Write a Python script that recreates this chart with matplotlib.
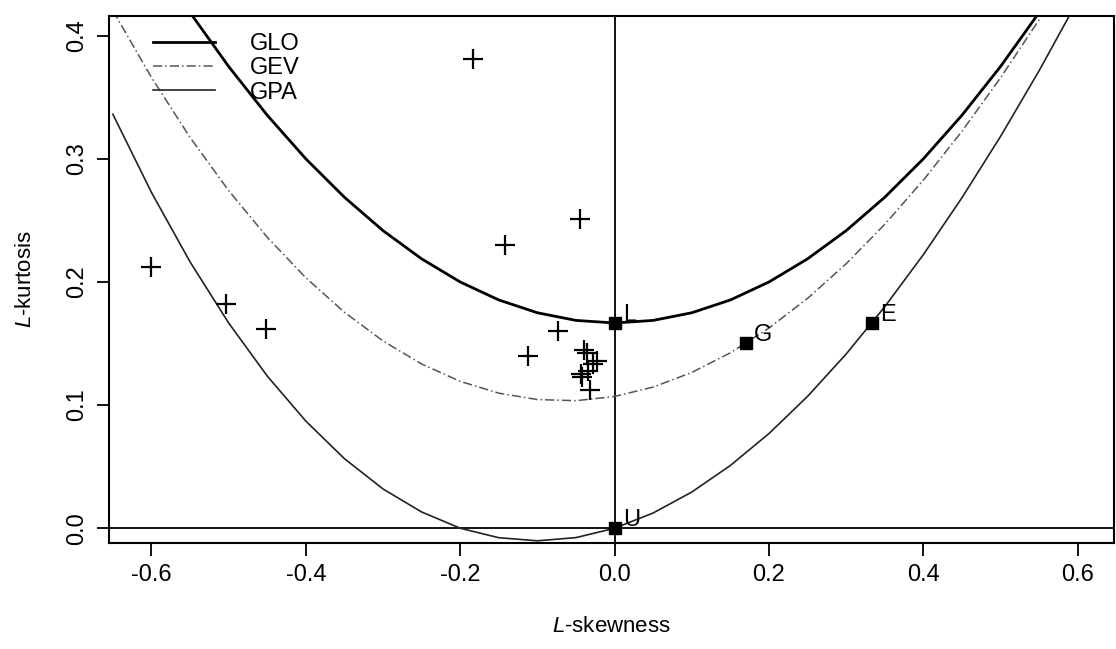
import matplotlib
matplotlib.use("Agg")
import matplotlib.pyplot as plt

plt.rcParams['font.family'] = ['Liberation Sans', 'DejaVu Sans']
plt.rcParams['mathtext.fontset'] = 'custom'
plt.rcParams['mathtext.rm'] = 'Liberation Sans'
plt.rcParams['mathtext.it'] = 'Liberation Sans:italic'

# L-skewness grid for the theoretical curves
tau3 = [-0.65, -0.60, -0.55, -0.50, -0.45, -0.40, -0.35, -0.30, -0.25, -0.20,
        -0.15, -0.10, -0.05, 0.00, 0.05, 0.10, 0.15, 0.20, 0.25, 0.30,
        0.35, 0.40, 0.45, 0.50, 0.55, 0.60, 0.65]
glo = [0.5188, 0.4667, 0.4188, 0.3750, 0.3354, 0.3000, 0.2688, 0.2417, 0.2188, 0.2000,
       0.1854, 0.1750, 0.1688, 0.1667, 0.1688, 0.1750, 0.1854, 0.2000, 0.2188, 0.2417,
       0.2688, 0.3000, 0.3354, 0.3750, 0.4188, 0.4667, 0.5188]
gev = [0.4204, 0.3661, 0.3174, 0.2742, 0.2363, 0.2034, 0.1754, 0.1521, 0.1334, 0.1193,
       0.1097, 0.1045, 0.1036, 0.1070, 0.1147, 0.1265, 0.1425, 0.1626, 0.1867, 0.2148,
       0.2468, 0.2827, 0.3224, 0.3658, 0.4130, 0.4638, 0.5180]
gpa = [0.3362, 0.2727, 0.2163, 0.1667, 0.1236, 0.0870, 0.0565, 0.0319, 0.0132, 0.0000,
       -0.0077, -0.0102, -0.0076, 0.0000, 0.0124, 0.0294, 0.0510, 0.0769, 0.1071, 0.1415,
       0.1799, 0.2222, 0.2684, 0.3182, 0.3716, 0.4286, 0.4906]

# sample L-moment ratios (stations)
site_skew = [-0.600, -0.503, -0.451, -0.184, -0.142, -0.045, -0.112, -0.073,
             -0.040, -0.036, -0.023, -0.028, -0.034, -0.043, -0.042, -0.032]
site_kurt = [0.212, 0.182, 0.162, 0.381, 0.230, 0.251, 0.140, 0.160,
             0.145, 0.1425, 0.136, 0.133, 0.128, 0.125, 0.1225, 0.112]

# special two-parameter distributions
dist_names = ['L', 'G', 'E', 'U']
dist_skew = [0.0, 0.1699, 0.3333, 0.0]
dist_kurt = [0.1667, 0.1504, 0.1667, 0.0]

fig = plt.figure(figsize=(11.16, 6.49), dpi=100)
ax = fig.add_axes([0.0977, 0.1633, 0.9005, 0.812])

ax.axhline(0, color='black', lw=1.3)
ax.axvline(0, color='black', lw=1.3)

ax.plot(tau3, glo, color='black', lw=2.0, label='GLO')
ax.plot(tau3, gev, color='#555555', lw=1.1, linestyle=(0, (6, 2, 1, 2)), label='GEV')
ax.plot(tau3, gpa, color='#222222', lw=1.2, label='GPA')

ax.plot(site_skew, site_kurt, '+', color='black', ms=15, mew=1.6)

ax.plot(dist_skew, dist_kurt, 's', color='black', ms=8)
for name, sx, sy in zip(dist_names, dist_skew, dist_kurt):
    ax.annotate(name, (sx, sy), xytext=(6, 6), textcoords='offset points',
                fontsize=17, ha='left', va='center')

ax.set_xlim(-0.655, 0.647)
ax.set_ylim(-0.012, 0.416)
ax.set_xticks([-0.6, -0.4, -0.2, 0.0, 0.2, 0.4, 0.6])
ax.set_yticks([0.0, 0.1, 0.2, 0.3, 0.4])
ax.set_xticklabels(['-0.6', '-0.4', '-0.2', '0.0', '0.2', '0.4', '0.6'])
ax.set_yticklabels(['0.0', '0.1', '0.2', '0.3', '0.4'], rotation=90, va='center')
ax.tick_params(direction='out', length=9, width=1.3, labelsize=17, pad=6)

for s in ax.spines.values():
    s.set_linewidth(1.5)

ax.set_xlabel(r'$\mathit{L}$-skewness', fontsize=16, labelpad=22)
ax.set_ylabel(r'$\mathit{L}$-kurtosis', fontsize=16, labelpad=22)

ax.legend(loc='upper left', bbox_to_anchor=(0.044, 0.968), frameon=False,
          fontsize=17, handlelength=2.6, handletextpad=1.5, labelspacing=0.1,
          borderaxespad=0, borderpad=0)

fig.savefig('out.png', dpi=100)
